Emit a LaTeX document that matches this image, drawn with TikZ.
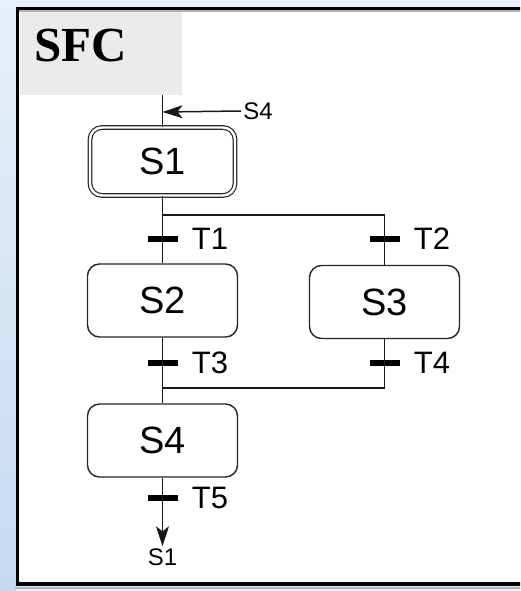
\documentclass[tikz,border=0pt]{standalone}
\usepackage{fontspec}
\setmainfont{Liberation Sans}
\newfontfamily\titlefont{Liberation Serif}
\usetikzlibrary{arrows.meta}

\definecolor{pageblue}{RGB}{196,218,241}
\definecolor{paleblue}{RGB}{232,240,250}
\definecolor{titlegray}{RGB}{235,235,235}

\tikzset{
  stepbox/.style={draw=black!85, line width=1.4pt, rounded corners=12pt,
    minimum width=150pt, minimum height=73pt, inner sep=0pt,
    font=\fontsize{38}{38}\selectfont},
  initstep/.style={stepbox, double, double distance=2.4pt, line width=1.2pt,
    minimum width=145pt, minimum height=68pt},
  tbar/.style={fill=black, minimum width=30pt, minimum height=6pt, inner sep=0pt},
  tlabel/.style={font=\fontsize{31}{31}\selectfont, inner sep=0pt, xshift=14pt},
  reflbl/.style={font=\fontsize{24}{24}\selectfont, inner sep=2pt},
  link/.style={line width=1.5pt, black!90},
  tip/.style={-{Stealth[length=20pt, width=13pt, inset=5pt]}},
}

\begin{document}
\begin{tikzpicture}[x=1pt, y=-1pt]
    \useasboundingbox (0,0) rectangle (520,591);
    \clip (0,0) rectangle (520,591);

    % page behind the frame
    \fill[paleblue] (0,0) rectangle (520,591);
    \shade[top color=paleblue, bottom color=pageblue] (0,0) rectangle (16,591);

    % frame and title field
    \fill[white] (17.5,8.5) rectangle (530,584);
    \fill[titlegray] (19.5,10.5) rectangle (182,95);
    \draw[gray!60, line width=2pt] (19,11.5) -- (530,11.5);
    \draw[gray!60, line width=2pt] (15,587.5) -- (530,587.5);
    \draw[line width=3.5pt] (530,8.5) -- (17.5,8.5) -- (17.5,584) -- (530,584);
    \node[anchor=base west, inner sep=0pt, font=\titlefont\bfseries\fontsize{49}{49}\selectfont]
        (title) at (34,62) {SFC};

    % steps
    \node[initstep] (s1) at (162.5,161.5) {S1};
    \node[stepbox] (s2) at (162.5,300.5) {S2};
    \node[stepbox] (s3) at (384.5,302) {S3};
    \node[stepbox] (s4) at (162.5,440.5) {S4};

    % transitions
    \node[tbar, label={[tlabel]right:T1}] (t1) at (162.5,239) {};
    \node[tbar, label={[tlabel]right:T2}] (t2) at (384.5,239) {};
    \node[tbar, label={[tlabel]right:T3}] (t3) at (162.5,363) {};
    \node[tbar, label={[tlabel]right:T4}] (t4) at (384.5,363) {};
    \node[tbar, label={[tlabel]right:T5}] (t5) at (162.5,498) {};

    % jump targets
    \node[reflbl] (s4ref) at (258,111) {S4};
    \node[reflbl] (s1ref) at (162.5,557) {S1};

    \coordinate (top) at (162.5,95);
    \coordinate (entry) at (162.5,112);
    \coordinate (fork) at (162.5,215);
    \coordinate (join) at (162.5,388);

    % links between steps
    \draw[link] (top) -- (s1.north);
    \draw[link, tip] (s4ref.west) -- (entry);
    \draw[link] (s1.south) -- (s2.north);
    \draw[link] (fork) -| (s3.north);
    \draw[link] (s2.south) -- (s4.north);
    \draw[link] (s3.south) |- (join);
    \draw[link, tip] (s4.south) -- (s1ref.north);
\end{tikzpicture}
\end{document}
